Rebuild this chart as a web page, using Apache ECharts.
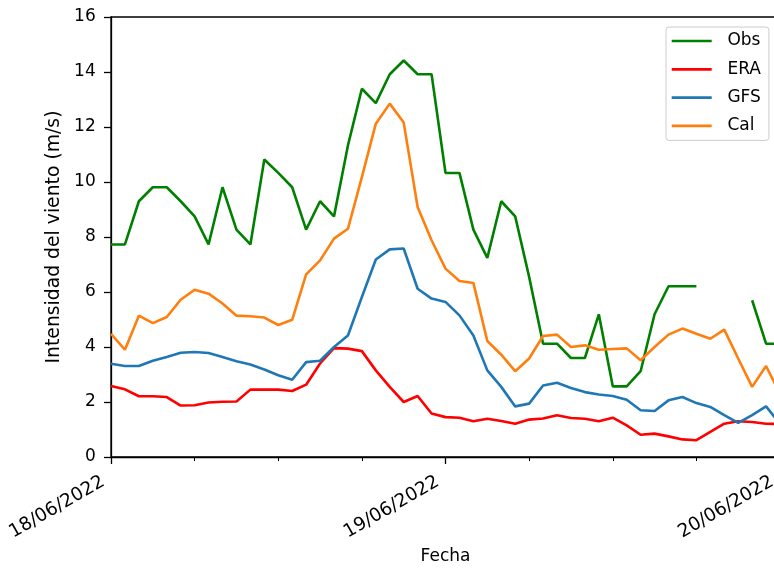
<!DOCTYPE html>
<html>
<head>
<meta charset="utf-8">
<script src="https://cdn.jsdelivr.net/npm/echarts@6/dist/echarts.min.js"></script>
<style>
  html, body { margin: 0; padding: 0; background: #fff; overflow: hidden; }
  #chart { width: 774px; height: 568px; }
</style>
</head>
<body>
<div id="chart"></div>
<script>
// Horas transcurridas desde el 18/06/2022 00:00
const horas = [0, 1, 2, 3, 4, 5, 6, 7, 8, 9, 10, 11, 12, 13, 14, 15, 16, 17, 18, 19, 20, 21, 22, 23,
               24, 25, 26, 27, 28, 29, 30, 31, 32, 33, 34, 35, 36, 37, 38, 39, 40, 41, 42, 43, 44, 45, 46, 47, 48];

// Etiquetas de fecha del eje X (hora -> texto)
const etiquetasFecha = { 0: '18/06/2022', 24: '19/06/2022', 48: '20/06/2022' };

// Intensidad del viento (m/s)
const obs = [7.73, 7.73, 9.30, 9.81, 9.81, 9.30, 8.75, 7.73, 9.81, 8.27, 7.73, 10.82, 10.33, 9.81, 8.27, 9.30,
             8.75, 11.33, 13.39, 12.87, 13.92, 14.42, 13.92, 13.92, 10.33, 10.33, 8.27, 7.24, 9.30, 8.75, 6.55, 4.12,
             4.12, 3.60, 3.60, 5.19, 2.57, 2.57, 3.12, 5.19, 6.21, 6.21, 6.21, null, null, null, 5.70, 4.12, 4.12];
const era = [2.58, 2.46, 2.21, 2.21, 2.18, 1.87, 1.88, 1.98, 2.01, 2.02, 2.45, 2.45, 2.45, 2.40, 2.63, 3.40,
             3.96, 3.94, 3.85, 3.15, 2.55, 2.00, 2.22, 1.58, 1.45, 1.43, 1.30, 1.39, 1.31, 1.21, 1.36, 1.40,
             1.52, 1.42, 1.39, 1.30, 1.43, 1.15, 0.81, 0.85, 0.75, 0.64, 0.61, 0.91, 1.21, 1.30, 1.27, 1.21, 1.20];
const gfs = [3.39, 3.31, 3.31, 3.50, 3.64, 3.79, 3.82, 3.78, 3.64, 3.48, 3.36, 3.18, 2.97, 2.81, 3.45, 3.50,
             4.00, 4.42, 5.82, 7.18, 7.55, 7.58, 6.12, 5.76, 5.64, 5.15, 4.42, 3.15, 2.55, 1.84, 1.94, 2.60,
             2.70, 2.51, 2.36, 2.27, 2.22, 2.08, 1.70, 1.67, 2.06, 2.18, 1.96, 1.82, 1.52, 1.24, 1.52, 1.84, 1.20];
const cal = [4.48, 3.90, 5.14, 4.87, 5.09, 5.72, 6.08, 5.94, 5.58, 5.14, 5.12, 5.07, 4.80, 4.99, 6.64, 7.15,
             7.94, 8.30, 10.18, 12.12, 12.85, 12.16, 9.09, 7.88, 6.85, 6.40, 6.33, 4.22, 3.72, 3.12, 3.58, 4.40,
             4.45, 4.00, 4.06, 3.90, 3.93, 3.95, 3.52, 4.00, 4.45, 4.67, 4.48, 4.30, 4.63, 3.58, 2.55, 3.31, 2.30];

// Ticks del eje Y
const ticksY = { min: 0, max: 16, paso: 2 };

const fuente = '"DejaVu Sans", sans-serif';

function pares(vals) {
  return horas.map((h, i) => [h, vals[i]]);
}

function serie(nombre, vals, color) {
  return {
    name: nombre,
    type: 'line',
    data: pares(vals),
    symbol: 'none',
    connectNulls: false,
    lineStyle: { color: color, width: 2.6 },
    itemStyle: { color: color },
    emphasis: { disabled: true },
    animation: false
  };
}

const chart = echarts.init(document.getElementById('chart'), null, { renderer: 'canvas' });

chart.setOption({
  backgroundColor: '#ffffff',
  animation: false,
  grid: {
    left: 111,
    top: 17,
    width: 669,
    height: 440,
    outerBoundsMode: 'none',
    containLabel: false,
    show: true,
    borderColor: '#000',
    borderWidth: 1.3,
    backgroundColor: 'transparent'
  },
  legend: {
    orient: 'vertical',
    left: 666,
    top: 27,
    padding: [5.5, 8, 6, 5.7],
    icon: 'rect',
    itemWidth: 40,
    itemHeight: 2.7,
    itemGap: 11.3,
    backgroundColor: 'rgba(255,255,255,0.8)',
    borderColor: '#cccccc',
    borderWidth: 1,
    borderRadius: 3,
    textStyle: { fontFamily: fuente, fontSize: 17, color: '#000', padding: [0, 0, 0, 10.7] },
    data: ['Obs', 'ERA', 'GFS', 'Cal']
  },
  xAxis: {
    type: 'value',
    min: 0,
    max: 48,
    interval: 24,
    name: 'Fecha',
    nameLocation: 'middle',
    nameGap: 91,
    nameTextStyle: { fontFamily: fuente, fontSize: 17, color: '#000' },
    axisLine: { show: true, lineStyle: { color: '#000', width: 1.3 } },
    axisTick: { show: true, length: 7, lineStyle: { color: '#000', width: 1.3 } },
    minorTick: { show: true, splitNumber: 4, length: 4, lineStyle: { color: '#000', width: 1 } },
    splitLine: { show: false },
    minorSplitLine: { show: false },
    axisLabel: {
      rotate: 30,
      margin: 19,
      padding: [0, 9, 0, 0],
      fontFamily: fuente,
      fontSize: 18.5,
      color: '#000',
      showMinLabel: true,
      showMaxLabel: true,
      hideOverlap: false,
      formatter: v => etiquetasFecha[v] || ''
    }
  },
  yAxis: {
    type: 'value',
    min: ticksY.min,
    max: ticksY.max,
    interval: ticksY.paso,
    name: 'Intensidad del viento (m/s)',
    nameLocation: 'middle',
    nameGap: 46,
    nameTextStyle: { fontFamily: fuente, fontSize: 18.8, color: '#000' },
    axisLine: { show: true, lineStyle: { color: '#000', width: 1.3 } },
    axisTick: { show: true, length: 7, lineStyle: { color: '#000', width: 1.3 } },
    splitLine: { show: false },
    axisLabel: { margin: 15.3, fontFamily: fuente, fontSize: 17, color: '#000' }
  },
  series: [
    serie('Obs', obs, '#008000'),
    serie('ERA', era, '#ff0000'),
    serie('GFS', gfs, '#1f77b4'),
    serie('Cal', cal, '#ff7f0e')
  ]
});
</script>
</body>
</html>
